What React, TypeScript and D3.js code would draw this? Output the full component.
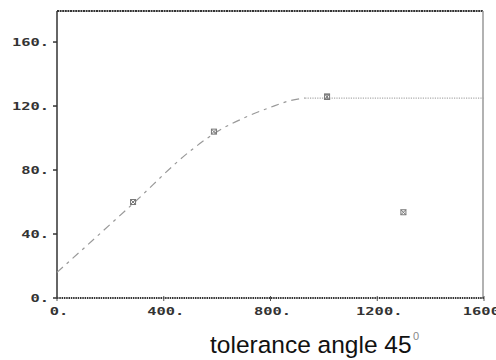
import React from "react";
import * as d3 from "d3";

const xTicks = [0, 400, 800, 1200, 1600];
const yTicks = [0, 40, 80, 120, 160];
const xTickLabels = ["0.", "400.", "800.", "1200.", "1600."];
const yTickLabels = ["0.", "40.", "80.", "120.", "160."];

// fitted curve (rising part dashed, plateau dotted)
const curveRiseX = [0, 285, 500, 600, 700, 800, 870, 930];
const curveRiseY = [16, 59, 92, 104, 112.5, 119.2, 123.2, 125];
const curveFlatX = [930, 1600];
const curveFlatY = [125, 125];

// measured points
const pointX = [285, 588, 1012, 1298];
const pointY = [60, 104, 125.8, 53.6];
const pointErr = [0, 0, 1.7, 0];

const W = 496;
const H = 360;
const left = 57;
const right = 484;
const top = 11;
const bottom = 298;

export default function App() {
  const x = d3.scaleLinear().domain([0, 1600]).range([left, right]);
  const y = d3.scaleLinear().domain([0, 179.4]).range([bottom, top]);
  const line = d3
    .line<[number, number]>()
    .x((d) => x(d[0]))
    .y((d) => y(d[1]))
    .curve(d3.curveMonotoneX);
  const rise = line(curveRiseX.map((v, i) => [v, curveRiseY[i]] as [number, number])) || "";
  const flat = line(curveFlatX.map((v, i) => [v, curveFlatY[i]] as [number, number])) || "";
  const tickFont = {
    fontFamily: "'DejaVu Sans Mono', monospace",
    fontWeight: "bold" as const,
    fontSize: 11,
    fill: "#333",
  };
  return (
    <svg
      width={W}
      height={H}
      style={{ position: "absolute", left: 0, top: 0, background: "#fff" }}
    >
      {/* frame */}
      <line x1={left} x2={right - 1} y1={top} y2={top} stroke="#333" strokeWidth={2} strokeDasharray="2 0.6" />
      <line x1={right - 1} x2={right - 1} y1={top} y2={bottom} stroke="#999" strokeWidth={1.5} />
      <line x1={left} x2={left} y1={top} y2={bottom + 1} stroke="#333" strokeWidth={1.5} />
      <line x1={left} x2={right} y1={bottom} y2={bottom} stroke="#333" strokeWidth={2} strokeDasharray="1.5 0.8" />

      {/* y ticks */}
      {yTicks.map((t, i) => (
        <g key={"y" + i}>
          <line x1={left - 4} x2={left} y1={y(t)} y2={y(t)} stroke="#333" strokeWidth={1.5} />
          <g transform={`translate(${left - 8},${y(t) + 4}) scale(1.4,1)`}>
            <text textAnchor="end" {...tickFont}>
              {yTickLabels[i]}
            </text>
          </g>
        </g>
      ))}

      {/* x ticks */}
      {xTicks.map((t, i) => (
        <g key={"x" + i}>
          <line x1={x(t)} x2={x(t)} y1={bottom - 2} y2={bottom + 3} stroke="#555" strokeWidth={1} />
          <g transform={`translate(${x(t) + 2},${bottom + 17}) scale(1.4,1)`}>
            <text textAnchor="middle" {...tickFont}>
              {xTickLabels[i]}
            </text>
          </g>
        </g>
      ))}

      {/* curves */}
      <path d={rise} fill="none" stroke="#999" strokeWidth={1.2} strokeDasharray="8 5 3 5" />
      <path d={flat} fill="none" stroke="#aaa" strokeWidth={1.2} strokeDasharray="1.2 1.2" />

      {/* points */}
      {pointX.map((px, i) => {
        const cx = x(px);
        const cy = y(pointY[i]);
        return (
          <g key={"p" + i} stroke="#777" strokeWidth={1} fill="none">
            {pointErr[i] > 0 && (
              <>
                <line x1={cx} x2={cx} y1={y(pointY[i] + pointErr[i])} y2={y(pointY[i] - pointErr[i])} />
                <line x1={cx - 3} x2={cx + 3} y1={y(pointY[i] + pointErr[i])} y2={y(pointY[i] + pointErr[i])} />
                <line x1={cx - 3} x2={cx + 3} y1={y(pointY[i] - pointErr[i])} y2={y(pointY[i] - pointErr[i])} />
              </>
            )}
            <rect x={cx - 2.5} y={cy - 2.5} width={5} height={5} />
            <line x1={cx - 2.5} x2={cx + 2.5} y1={cy - 2.5} y2={cy + 2.5} />
            <line x1={cx - 2.5} x2={cx + 2.5} y1={cy + 2.5} y2={cy - 2.5} />
          </g>
        );
      })}

      {/* title */}
      <text
        x={210}
        y={353}
        fontFamily="'Liberation Sans', Arial, sans-serif"
        fontSize={24.5}
        fill="#111"
      >
        tolerance angle 45
      </text>
      <text x={413} y={340} fontFamily="'Liberation Sans', Arial, sans-serif" fontSize={11} fill="#888">
        0
      </text>
    </svg>
  );
}
